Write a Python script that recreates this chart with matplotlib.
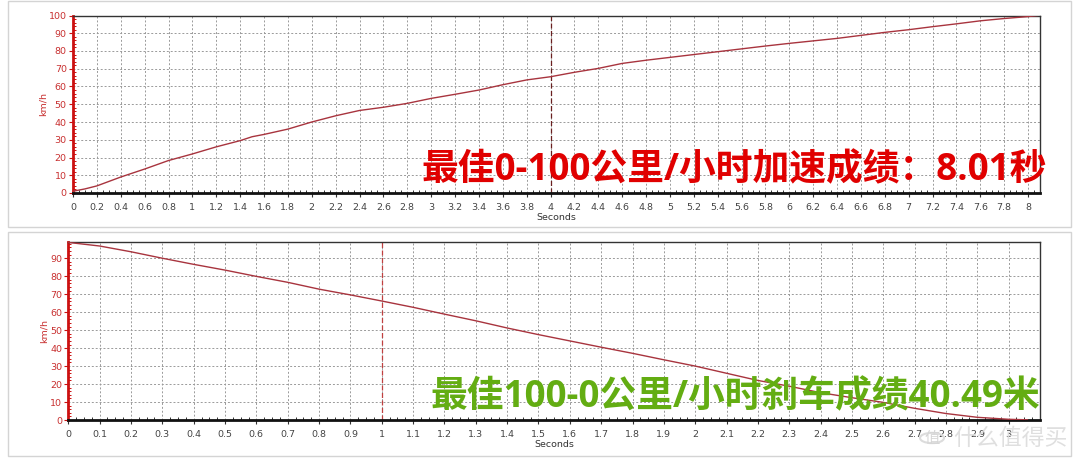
import matplotlib
matplotlib.use("Agg")
import matplotlib.pyplot as plt
from matplotlib.ticker import MultipleLocator, FormatStrFormatter, FixedLocator
from matplotlib.patches import Rectangle, Circle

# ---------------- data ----------------
accel_t = [0, 0.1, 0.2, 0.4, 0.6, 0.8, 1.0, 1.2, 1.4, 1.5, 1.6, 1.8, 1.9, 2.0, 2.2, 2.4,
           2.6, 2.8, 3.0, 3.2, 3.4, 3.6, 3.8, 4.0, 4.2, 4.4, 4.6, 4.8, 5.0, 5.2, 5.4, 5.6,
           5.8, 6.0, 6.2, 6.4, 6.6, 6.8, 7.0, 7.2, 7.4, 7.6, 7.8, 8.0, 8.08]
accel_v = [1, 2.3, 4, 9, 13.5, 18.3, 22, 26, 29.5, 31.7, 33, 36, 38, 40, 43.5, 46.5,
           48.3, 50.5, 53.3, 55.6, 58, 61, 63.7, 65.5, 68, 70.2, 73, 74.8, 76.4, 78, 79.6, 81.2,
           82.8, 84.3, 85.7, 87.1, 88.8, 90.5, 92, 93.7, 95.3, 97, 98.3, 99.4, 100]

brake_t = [0, 0.1, 0.2, 0.3, 0.4, 0.5, 0.6, 0.7, 0.8, 0.9, 1.0, 1.1, 1.2, 1.3, 1.4, 1.5,
           1.6, 1.7, 1.8, 1.9, 2.0, 2.1, 2.2, 2.3, 2.4, 2.5, 2.6, 2.7, 2.8, 2.9, 3.0, 3.06]
brake_v = [98.8, 96.8, 93.6, 90, 86.6, 83.4, 79.9, 76.6, 72.8, 69.6, 66.2, 62.7, 58.9, 55.2, 51.2, 47.5,
           44, 40.5, 37.1, 33.5, 30, 26, 22, 18.8, 15.2, 12.4, 9.8, 6.5, 3.6, 1.5, 0.4, 0.1]

accel_xticks = [i / 5 for i in range(41)]     # 0, 0.2 ... 8
brake_xticks = [i / 10 for i in range(31)]    # 0, 0.1 ... 3
accel_yticks = list(range(0, 101, 10))
brake_yticks = list(range(0, 91, 10))

accel_cursor = 4.0
brake_cursor = 1.0
accel_title = "最佳0-100公里/小时加速成绩：8.01秒"
brake_title = "最佳100-0公里/小时刹车成绩40.49米"
x_label = "Seconds"
y_label = "km/h"
watermark = "什么值得买"

# ---------------- figure ----------------
W, H = 1080, 462
fig = plt.figure(figsize=(W / 100, H / 100), dpi=100)
fig.patch.set_facecolor("white")

CJK = ["Noto Sans CJK SC", "DejaVu Sans"]
TITLE_FONT = ["Open Sans", "Noto Sans CJK SC", "DejaVu Sans"]
LINE_C = "#a8343e"
RED_AX = "#cc1010"
TICK_C = "#444444"

# panel frames (screenshot borders)
for (x0, y0, x1, y1) in [(8, 1, 1071, 227), (8, 232, 1071, 456)]:
    fig.add_artist(Rectangle((x0 / W, 1 - y1 / H), (x1 - x0) / W, (y1 - y0) / H,
                             transform=fig.transFigure, fill=False,
                             edgecolor="#d4d4d4", lw=1.0))


def style_axes(ax, xmax, ymax, xticks, xminor, yticks):
    ax.set_xlim(0, xmax)
    ax.set_ylim(0, ymax)
    ax.xaxis.set_major_locator(FixedLocator(xticks))
    ax.xaxis.set_minor_locator(MultipleLocator(xminor))
    ax.xaxis.set_major_formatter(FormatStrFormatter("%g"))
    ax.set_yticks(yticks)
    ax.yaxis.set_minor_locator(MultipleLocator(2))
    ax.grid(True, which="major", color="#9a9a9a", linestyle=(0, (2, 2)), lw=0.7)
    ax.tick_params(axis="x", which="major", direction="out", length=3, width=0.8,
                   colors="#333333", labelsize=6.8, labelcolor=TICK_C, pad=4)
    ax.tick_params(axis="x", which="minor", direction="in", length=2, width=0.7, colors="#333333")
    ax.tick_params(axis="y", which="major", direction="out", length=3, width=0.8,
                   colors=RED_AX, labelsize=6.8, labelcolor="#c83030", pad=1.5)
    ax.tick_params(axis="y", which="minor", direction="in", length=2, width=0.7, colors=RED_AX)
    ax.spines["left"].set_color(RED_AX)
    ax.spines["left"].set_linewidth(2.0)
    ax.spines["bottom"].set_color("#111111")
    ax.spines["bottom"].set_linewidth(2.0)
    for s in ("top", "right"):
        ax.spines[s].set_color("#333333")
        ax.spines[s].set_linewidth(1.0)
    ax.set_xlabel(x_label, fontsize=6.8, color="#333333", labelpad=1)
    ax.set_ylabel(y_label, fontsize=6.8, color="#c83030", labelpad=1)


# ---------------- top: acceleration ----------------
ax1 = fig.add_axes([73 / W, 1 - 193 / H, (1040 - 73) / W, (193 - 15.5) / H])
style_axes(ax1, 8.1, 100, accel_xticks, 0.05, accel_yticks)
ax1.axvline(accel_cursor, color="#6a2020", lw=0.9, linestyle=(0, (4, 2)))
ax1.plot(accel_t, accel_v, color=LINE_C, lw=1.0, zorder=5)
ax1.text(421 / W, 1 - 170 / H, accel_title, transform=fig.transFigure,
         family=TITLE_FONT, fontsize=26.5, fontweight="bold", color="#e00000",
         ha="left", va="center", zorder=10)

# ---------------- bottom: braking ----------------
ax2 = fig.add_axes([68.3 / W, 1 - 420 / H, (1040 - 68.3) / W, (420 - 241.7) / H])
style_axes(ax2, 3.1, 99.2, brake_xticks, 0.025, brake_yticks)
ax2.axvline(brake_cursor, color="#c04040", lw=0.9, linestyle=(0, (4, 2)))
ax2.plot(brake_t, brake_v, color=LINE_C, lw=1.0, zorder=5)
ax2.text(430 / W, 1 - 397 / H, brake_title, transform=fig.transFigure,
         family=TITLE_FONT, fontsize=26.5, fontweight="bold", color="#63ad12",
         ha="left", va="center", zorder=10)

# watermark
fig.add_artist(Circle((932 / W, 1 - 438 / H), 12 / W, transform=fig.transFigure,
                      fill=False, edgecolor="#dcdcdc", lw=1.5))
fig.text(932 / W, 1 - 438 / H, "值", family=CJK, fontsize=11, color="#d6d6d6",
         ha="center", va="center")
fig.text(953 / W, 1 - 438 / H, watermark, family=CJK, fontsize=16.5, color="#dcdcdc",
         ha="left", va="center", alpha=0.9)

fig.savefig("out.png", dpi=100, facecolor="white")
